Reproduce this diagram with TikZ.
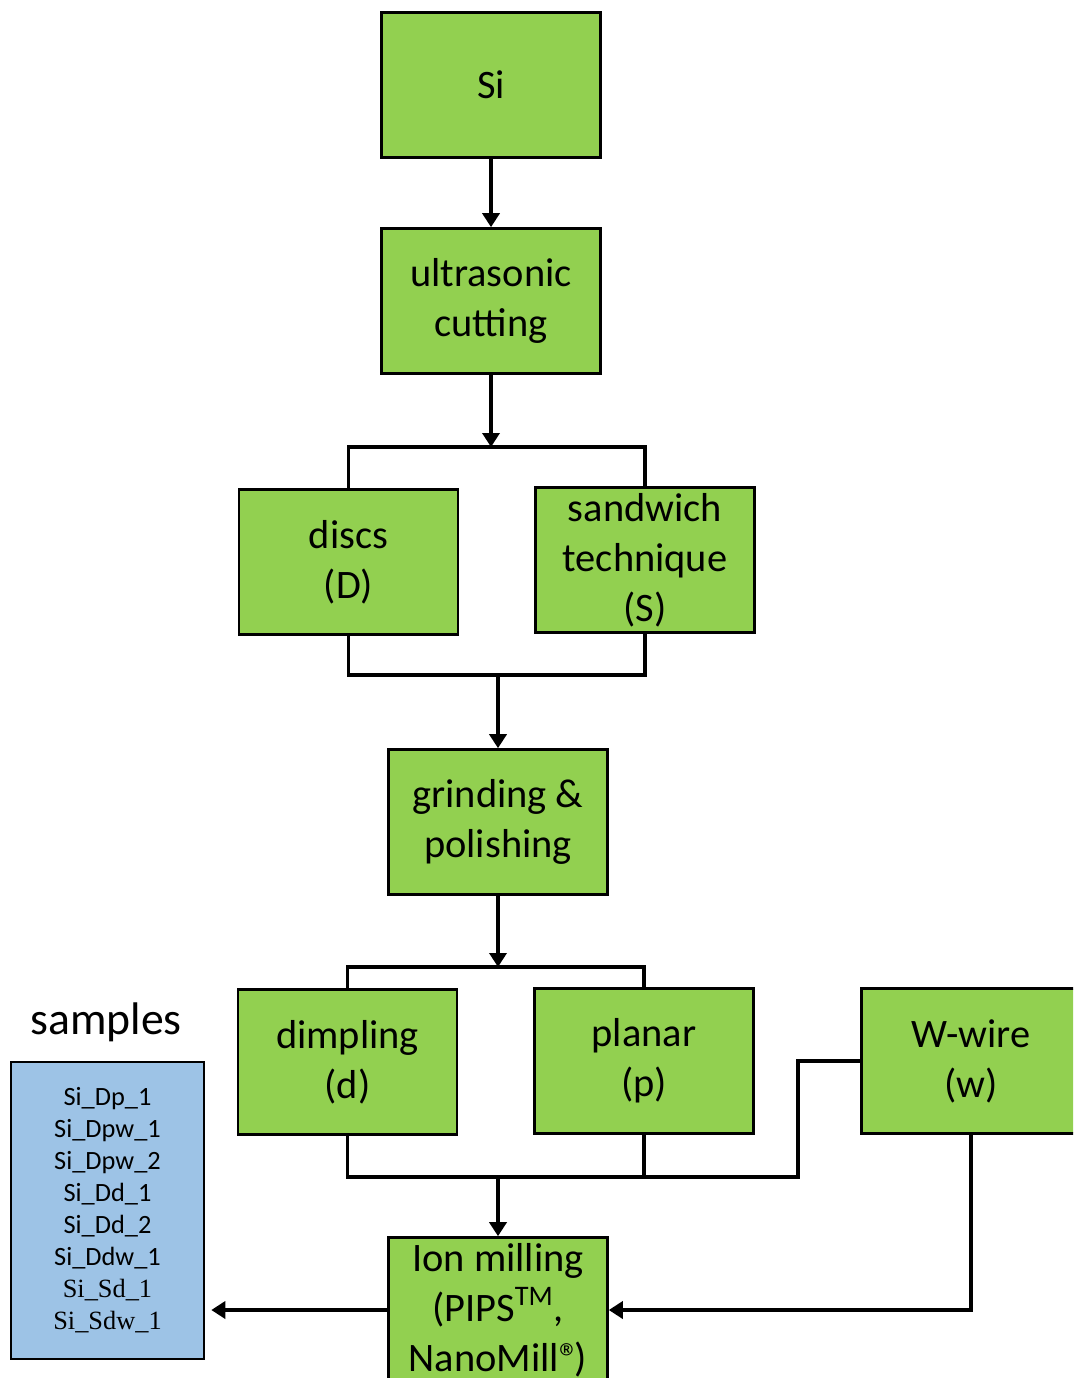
\documentclass[tikz,border=0pt]{standalone}
\usepackage{fontspec}
\setmainfont{Carlito}
\newfontfamily\timesfont{Liberation Serif}
\usepackage{xcolor}
\usepackage{tikz}
\usetikzlibrary{arrows.meta,positioning,calc}

\definecolor{boxgreen}{HTML}{92D050}
\definecolor{sampleblue}{HTML}{9DC3E6}

\tikzset{
  stepbox/.style={draw=black, line width=1.5pt, fill=boxgreen, align=center,
    minimum width=4.38cm, minimum height=2.9cm, inner sep=0pt,
    font=\fontsize{23}{28.5}\selectfont},
  samplebox/.style={draw=black, line width=1.5pt, fill=sampleblue, align=center,
    minimum width=3.86cm, minimum height=5.94cm, inner sep=0pt,
    font=\fontsize{15}{18.2}\selectfont},
  link/.style={line width=2pt},
  arrow/.style={link, -{Triangle[length=0.28cm,width=0.34cm]}}
}

\begin{document}
\begin{tikzpicture}[x=0.02cm, y=-0.02cm]
          % Page frame
          \useasboundingbox (0,0) rectangle (1073,1378);
          \clip (0,0) rectangle (1073,1378);
          % Process steps
          \node[stepbox] (si) at (491,85) {Si};
          \node[stepbox] (cut) at (491,301) {ultrasonic\\cutting};
          \node[stepbox] (discs) at (348.5,562) {discs\\(D)};
          \node[stepbox] (sand) at (645,560) {sandwich\\technique\\(S)};
          \node[stepbox] (grind) at (498,822) {grinding \&\\polishing};
          \node[stepbox] (dimp) at (347.5,1062) {dimpling\\(d)};
          \node[stepbox] (planar) at (644,1061) {planar\\(p)};
          \node[stepbox] (wire) at (971,1061) {W-wire\\(w)};
          \node[stepbox] (ion) at (498,1310)
            {Ion milling\\(PIPS\textsuperscript{TM},\\NanoMill®\kern-0.12em)};
          % Sample list
          \node[font=\fontsize{26}{30}\selectfont] (samplesLabel) at (106,1022) {samples};
          \node[samplebox] (samples) at (107.5,1210.5)
            {Si\_Dp\_1\\Si\_Dpw\_1\\Si\_Dpw\_2\\Si\_Dd\_1\\Si\_Dd\_2\\Si\_Ddw\_1\\
             {\timesfont Si\_Sd\_1}\\{\timesfont Si\_Sdw\_1}};
          % Branch and merge points
          \coordinate (split1) at (491,447);
          \coordinate (merge1) at (498,675);
          \coordinate (split2) at (498,967);
          \coordinate (merge2) at (498,1177);
          \coordinate (jog) at (798,1177);
          % Connectors
          \draw[arrow] (si) -- (cut);
          \draw[arrow] (cut) -- (split1);
          \draw[link] (discs.north) |- (split1) -| (sand.north);
          \draw[link] (discs.south) |- (merge1) -| (sand.south);
          \draw[arrow] (merge1) -- (grind);
          \draw[arrow] (grind) -- (split2);
          \draw[link] (dimp.north) |- (split2) -| (planar.north);
          \draw[link] (dimp.south) |- (merge2) -| (planar.south);
          \draw[link] (planar.south |- merge2) -- (jog) |- (wire.west);
          \draw[arrow] (merge2) -- (ion);
          \draw[arrow] (wire.south) |- (ion.east);
          \draw[arrow, shorten >=0.12cm] (ion.west) -- (ion.west -| samples.east);
        \end{tikzpicture}
\end{document}
